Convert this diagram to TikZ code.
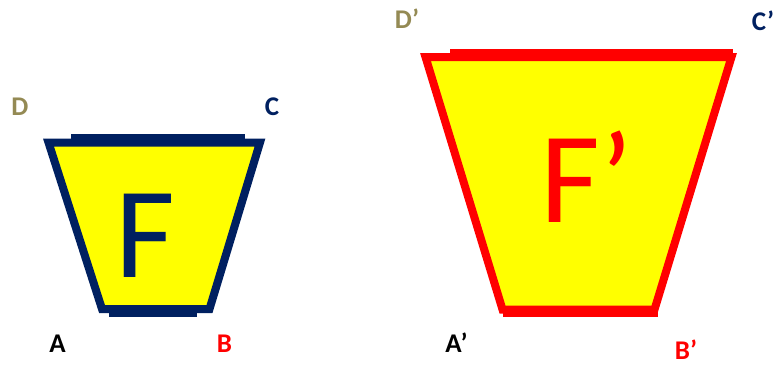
\documentclass[tikz,border=0pt]{standalone}
\usepackage{fontspec}
\setmainfont{Carlito}
\definecolor{azul}{HTML}{002060}
\definecolor{oliva}{HTML}{948A54}
\definecolor{amarillo}{HTML}{FFFF00}
\definecolor{rojo}{HTML}{FF0000}

\begin{document}
\begin{tikzpicture}[x=1pt,y=-1pt,line join=miter,
  borde/.style={line width=8pt,fill=amarillo},
  barra/.style={line width=5.5pt},
  etq/.style={inner sep=0pt,anchor=base,font=\bfseries\fontsize{27}{27}\selectfont},
  letra/.style={inner sep=0pt,anchor=base,font=\fontsize{130}{130}\selectfont}]
  \useasboundingbox (0,0) rectangle (775,364);
  % figura F
  \draw[borde,draw=azul] (48.5,142.5) coordinate (D) -- (260,142.5) coordinate (C)
    -- (209.5,309) coordinate (B) -- (102,309) coordinate (A) -- cycle;
  \draw[barra,azul] (71,137) -- (245,137);
  \draw[barra,azul] (109,314.5) -- (197,314.5);
  \node[letra,azul] (F) at (145,277) {F};
  % figura F'
  \draw[borde,draw=rojo] (425.5,57) coordinate (D') -- (731.5,57) coordinate (C')
    -- (654.5,309.5) coordinate (B') -- (502.5,309.5) coordinate (A') -- cycle;
  \draw[barra,rojo] (450,51.3) -- (733,51.3);
  \draw[barra,rojo] (503,314.5) -- (658,314.5);
  \node[letra,rojo] (Fp) at (587,222) {F’};
  % vertices
  \node[etq,oliva] (lblD) at (20,115) {D};
  \node[etq,azul] (lblC) at (272,115) {C};
  \node[etq,black] (lblA) at (57.5,352) {A};
  \node[etq,rojo] (lblB) at (224.5,352) {B};
  \node[etq,oliva] (lblDp) at (407,28) {D’};
  \node[etq,azul] (lblCp) at (763,30) {C’};
  \node[etq,black] (lblAp) at (456.5,352) {A’};
  \node[etq,rojo] (lblBp) at (686,359.5) {B’};
\end{tikzpicture}
\end{document}
